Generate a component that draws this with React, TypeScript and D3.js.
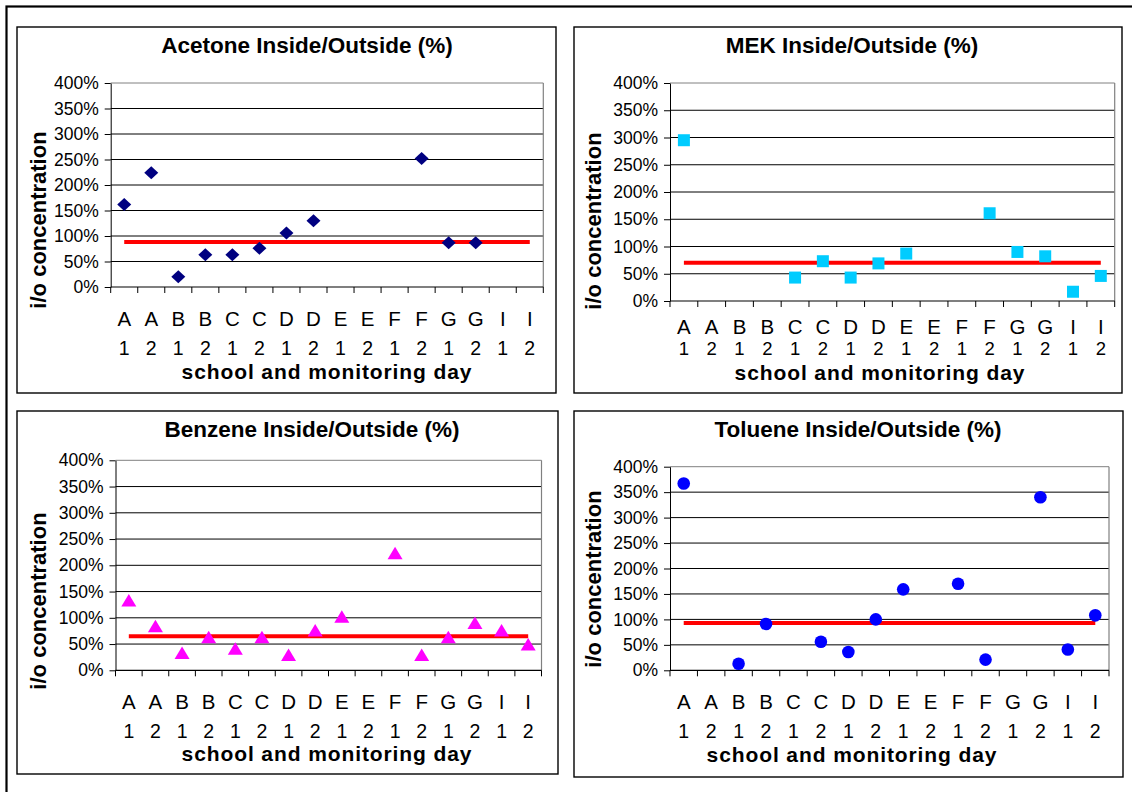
import * as React from "react";
import { useEffect, useRef } from "react";
import * as d3 from "d3";

// category labels: school letter on the first row, monitoring day below
const schools = ["A", "A", "B", "B", "C", "C", "D", "D", "E", "E", "F", "F", "G", "G", "I", "I"];
const days = ["1", "2", "1", "2", "1", "2", "1", "2", "1", "2", "1", "2", "1", "2", "1", "2"];
const yTicks = [0, 50, 100, 150, 200, 250, 300, 350, 400];

// inside/outside ratios in %, null = no measurement
const acetoneValues = [162, 224, 20, 63, 63, 76, 106, 130, null, null, null, 252, 87, 87, null, null];
const acetoneMean = 88;
const mekValues = [295, null, null, null, 43, 73, 43, 69, 87, null, null, 161, 90, 82, 17, 46];
const mekMean = 70;
const benzeneValues = [133, 84, 33, 63, 41, 63, 29, 76, 102, null, 223, 29, 63, 90, 76, 49];
const benzeneMean = 65;
const tolueneValues = [367, null, 13, 91, null, 56, 36, 100, 159, null, 170, 21, null, 340, 41, 108];
const tolueneMean = 93;

const FONT = "'Liberation Sans', Arial, Helvetica, sans-serif";

type Marker = "diamond" | "square" | "triangle" | "circle";

interface Layout {
  box: [number, number, number, number];
  plot: [number, number, number, number];
  title: [number, number];
  yTitle: [number, number];
  schoolBase: number;
  dayBase: number;
  daySize: number;
  xTitle: [number, number]; // x centre, baseline
}

interface PanelSpec {
  title: string;
  values: (number | null)[];
  mean: number;
  marker: Marker;
  color: string;
  layout: Layout;
}

const panels: PanelSpec[] = [
  {
    title: "Acetone Inside/Outside (%)",
    values: acetoneValues,
    mean: acetoneMean,
    marker: "diamond",
    color: "#000080",
    layout: {
      box: [17, 27, 556, 393],
      plot: [110.7, 83, 543.3, 287],
      title: [307, 45.5],
      yTitle: [38, 220],
      schoolBase: 326,
      dayBase: 354.5,
      daySize: 19.5,
      xTitle: [327, 378.5],
    },
  },
  {
    title: "MEK Inside/Outside (%)",
    values: mekValues,
    mean: mekMean,
    marker: "square",
    color: "#00CCFF",
    layout: {
      box: [574, 27, 1122, 393],
      plot: [670, 83, 1114.7, 301],
      title: [852, 45.5],
      yTitle: [593, 221],
      schoolBase: 334,
      dayBase: 355,
      daySize: 18.5,
      xTitle: [880, 379.5],
    },
  },
  {
    title: "Benzene Inside/Outside (%)",
    values: benzeneValues,
    mean: benzeneMean,
    marker: "triangle",
    color: "#FF00FF",
    layout: {
      box: [17, 411, 558, 774],
      plot: [115.5, 460.3, 541.5, 670.3],
      title: [312, 429.5],
      yTitle: [38, 601],
      schoolBase: 709,
      dayBase: 737.5,
      daySize: 19.5,
      xTitle: [327, 761],
    },
  },
  {
    title: "Toluene Inside/Outside (%)",
    values: tolueneValues,
    mean: tolueneMean,
    marker: "circle",
    color: "#0000FF",
    layout: {
      box: [574, 411, 1123, 777],
      plot: [670, 466.7, 1109, 670.3],
      title: [858, 429.5],
      yTitle: [593, 579],
      schoolBase: 709,
      dayBase: 737.5,
      daySize: 19.5,
      xTitle: [852, 762],
    },
  },
];

const markerPath: Record<Marker, string> = {
  diamond: "M0,-6.5L7,0L0,6.5L-7,0Z",
  square: "M-6,-6H6V6H-6Z",
  triangle: "M0,-6.5L7.5,6L-7.5,6Z",
  circle: "M6.3,0A6.3,6.3 0 1 1 -6.3,0A6.3,6.3 0 1 1 6.3,0Z",
};

function drawPanel(g: d3.Selection<SVGGElement, unknown, null, undefined>, p: PanelSpec) {
  const { box, plot } = p.layout;

  g.append("rect")
    .attr("x", box[0])
    .attr("y", box[1])
    .attr("width", box[2] - box[0])
    .attr("height", box[3] - box[1])
    .attr("fill", "#fff")
    .attr("stroke", "#000")
    .attr("stroke-width", 1.4);

  const idx = d3.range(schools.length);
  const x = d3.scaleBand<number>().domain(idx).range([plot[0], plot[2]]).padding(0);
  const y = d3.scaleLinear().domain([0, 400]).range([plot[3], plot[1]]);
  const cx = (i: number) => (x(i) as number) + x.bandwidth() / 2;

  // gridlines
  g.append("g")
    .selectAll("line")
    .data(yTicks.filter((t) => t > 0))
    .join("line")
    .attr("x1", plot[0])
    .attr("x2", plot[2])
    .attr("y1", (d) => y(d))
    .attr("y2", (d) => y(d))
    .attr("stroke", (d) => (d === 400 ? "#808080" : "#000"))
    .attr("stroke-width", 1);

  g.append("line")
    .attr("x1", plot[2])
    .attr("x2", plot[2])
    .attr("y1", plot[1])
    .attr("y2", plot[3])
    .attr("stroke", "#808080")
    .attr("stroke-width", 1.2);

  // y axis
  const ya = g
    .append("g")
    .attr("transform", `translate(${plot[0]},0)`)
    .call(
      d3
        .axisLeft(y)
        .tickValues(yTicks)
        .tickFormat((d) => `${d}%`)
        .tickSize(6)
        .tickSizeOuter(0)
        .tickPadding(6)
    );
  ya.attr("font-size", 17.5).attr("font-family", FONT);
  ya.selectAll("path, line").attr("stroke", "#000");
  ya.selectAll("text").attr("fill", "#000");

  // x axis with ticks between categories
  const bounds = [...idx.map((i) => x(i) as number), plot[2]];
  g.append("line")
    .attr("x1", plot[0])
    .attr("x2", plot[2])
    .attr("y1", y(0))
    .attr("y2", y(0))
    .attr("stroke", "#000")
    .attr("stroke-width", 1.2);
  g.append("g")
    .selectAll("line")
    .data(bounds)
    .join("line")
    .attr("x1", (d) => d)
    .attr("x2", (d) => d)
    .attr("y1", y(0))
    .attr("y2", y(0) + 6)
    .attr("stroke", "#000");

  const xl = g.append("g").attr("font-family", FONT).attr("font-size", 20.5).attr("text-anchor", "middle");
  xl.selectAll("text.school")
    .data(idx)
    .join("text")
    .attr("class", "school")
    .attr("x", (i) => cx(i))
    .attr("y", p.layout.schoolBase)
    .text((i) => schools[i]);
  xl.selectAll("text.day")
    .data(idx)
    .join("text")
    .attr("class", "day")
    .attr("x", (i) => cx(i))
    .attr("y", p.layout.dayBase)
    .attr("font-size", p.layout.daySize)
    .text((i) => days[i]);

  // mean line
  g.append("line")
    .attr("x1", cx(0))
    .attr("x2", cx(idx.length - 1))
    .attr("y1", y(p.mean))
    .attr("y2", y(p.mean))
    .attr("stroke", "#FF0000")
    .attr("stroke-width", 4);

  // markers
  const pts = idx.filter((i) => p.values[i] != null);
  g.append("g")
    .selectAll("path")
    .data(pts)
    .join("path")
    .attr("d", markerPath[p.marker])
    .attr("transform", (i) => `translate(${cx(i)},${y(p.values[i] as number)})`)
    .attr("fill", p.color);

  // titles
  g.append("text")
    .attr("x", p.layout.title[0])
    .attr("y", p.layout.title[1])
    .attr("text-anchor", "middle")
    .attr("dominant-baseline", "central")
    .attr("font-family", FONT)
    .attr("font-weight", "bold")
    .attr("font-size", 22.5)
    .text(p.title);

  g.append("text")
    .attr("transform", `translate(${p.layout.yTitle[0]},${p.layout.yTitle[1]}) rotate(-90)`)
    .attr("text-anchor", "middle")
    .attr("dominant-baseline", "central")
    .attr("font-family", FONT)
    .attr("font-weight", "bold")
    .attr("font-size", 22)
    .text("i/o concentration");

  g.append("text")
    .attr("x", p.layout.xTitle[0])
    .attr("y", p.layout.xTitle[1])
    .attr("text-anchor", "middle")
    .attr("font-family", FONT)
    .attr("font-weight", "bold")
    .attr("font-size", 21)
    .attr("letter-spacing", 0.9)
    .text("school and monitoring day");
}

const App: React.FC = () => {
  const svgRef = useRef<SVGSVGElement | null>(null);

  useEffect(() => {
    const svg = d3.select(svgRef.current);
    svg.selectAll("*").remove();

    svg.append("rect").attr("width", 1132).attr("height", 792).attr("fill", "#fff");
    svg
      .append("rect")
      .attr("x", 6.5)
      .attr("y", 6.5)
      .attr("width", 1140)
      .attr("height", 800)
      .attr("fill", "none")
      .attr("stroke", "#000")
      .attr("stroke-width", 2.2);

    panels.forEach((p) => drawPanel(svg.append("g"), p));
  }, []);

  return (
    <svg
      ref={svgRef}
      width={1132}
      height={792}
      style={{ position: "absolute", left: 0, top: 0, display: "block" }}
    ></svg>
  );
};

export default App;
